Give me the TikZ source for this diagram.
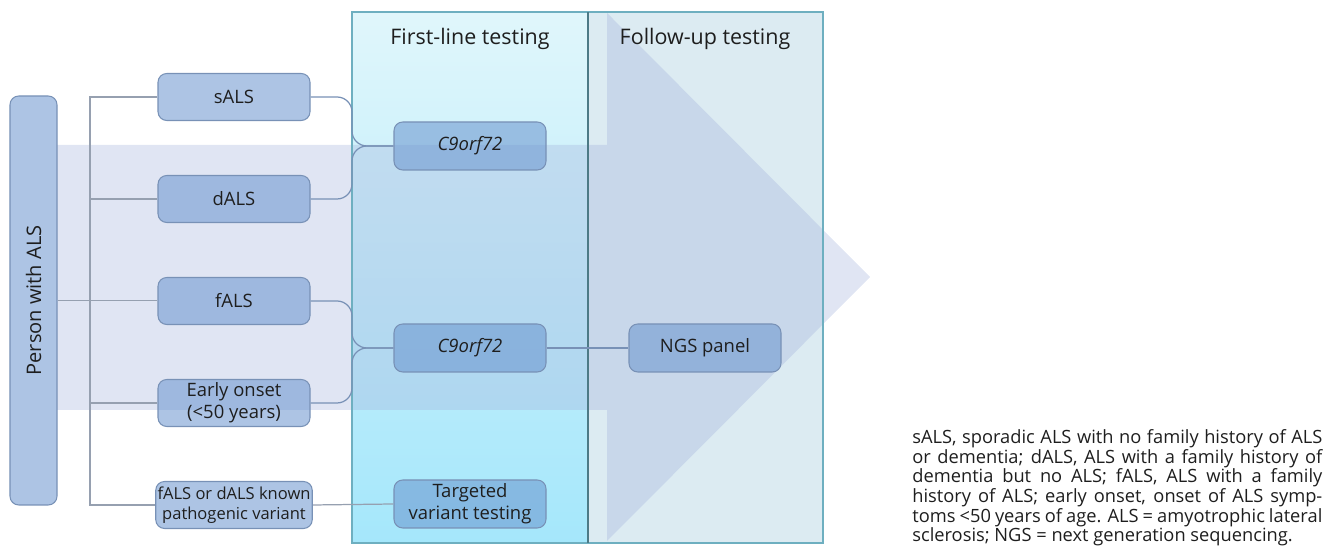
\documentclass[tikz,border=0pt]{standalone}
\usepackage{xcolor}
\usepackage{fontspec}
\setmainfont{Open Sans}
\usepackage{tikz}
\usetikzlibrary{positioning}

\definecolor{boxfill}{RGB}{105,148,206}
\definecolor{boxline}{RGB}{120,145,182}
\definecolor{tieline}{RGB}{150,160,176}
\definecolor{panelline}{RGB}{110,175,192}
\definecolor{paneltop}{RGB}{224,246,251}
\definecolor{panelbot}{RGB}{165,231,251}
\definecolor{followfill}{RGB}{220,235,242}
\definecolor{arrowfill}{RGB}{165,180,220}
\definecolor{inktext}{RGB}{30,30,30}

\begin{document}
\begin{tikzpicture}[font=\fontsize{10.5}{12.6}\selectfont, text=inktext,
    group/.style={draw=boxline, line width=0.6pt, rounded corners=5pt,
      fill=boxfill, fill opacity=0.55, text opacity=1, align=center,
      inner sep=1pt, minimum width=3.04cm, minimum height=0.94cm},
    head/.style={font=\fontsize{12.2}{14}\selectfont},
    tie/.style={draw=tieline, line width=0.7pt},
    link/.style={draw=boxline, line width=0.7pt, rounded corners=0.3cm}]
      \useasboundingbox (0,0) rectangle (26.5,11.04);

      % panels
      \shade[top color=paneltop, bottom color=panelbot] (7.04,0.18) rectangle (11.76,10.8);
      \fill[followfill] (11.76,0.18) rectangle (16.46,10.8);

      % big arrow
      \fill[arrowfill, fill opacity=0.35] (1.14,8.14) -- (12.14,8.14) -- (12.14,10.78)
        -- (17.4,5.5) -- (12.14,0.22) -- (12.14,2.84) -- (1.14,2.84) -- cycle;

      \draw[panelline, line width=0.6pt] (7.04,0.18) rectangle (16.46,10.8);
      \draw[panelline!70!black, line width=0.8pt] (11.76,0.18) -- (11.76,10.8);

      \node[head] (first) at (9.4,10.26) {First-line testing};
      \node[head] (follow) at (14.1,10.26) {Follow-up testing};

      % patient groups
      \node[group, rotate=90, minimum width=8.18cm, minimum height=0.94cm,
        font=\fontsize{11.4}{13}\selectfont] (person) at (0.67,5.03) {Person with ALS};
      \node[group] (sals) at (4.68,9.1) {sALS};
      \node[group] (dals) at (4.68,7.06) {dALS};
      \node[group] (fals) at (4.68,5.02) {fALS};
      \node[group] (early) at (4.68,2.98) {Early onset\\(<50 years)};
      \node[group, font=\fontsize{9.4}{11.2}\selectfont] (known) at (4.68,0.94) {fALS or dALS known\\pathogenic variant};

      % tests
      \node[group, minimum height=0.96cm] (c9a) at (9.4,8.12) {\textit{C9orf72}};
      \node[group, minimum height=0.96cm] (c9b) at (9.4,4.08) {\textit{C9orf72}};
      \node[group, minimum height=0.96cm] (target) at (9.4,0.96) {Targeted\\variant testing};
      \node[group, minimum height=0.96cm] (ngs) at (14.1,4.08) {NGS panel};

      \coordinate (brk) at (1.8,0);
      \coordinate (ja) at (7.04,8.12);
      \coordinate (jb) at (7.04,4.08);

      \draw[tie] (person.south) -- (person.south -| fals.west);
      \draw[tie] (sals.west) -- (sals.west -| brk) |- (known.west);
      \foreach \grp in {dals, early}
        \draw[tie] (\grp.west) -- (\grp.west -| brk);

      \draw[link] (sals.east) -| (ja) -- (c9a.west);
      \draw[link] (dals.east) -| (ja) -- (c9a.west);
      \draw[link] (fals.east) -| (jb) -- (c9b.west);
      \draw[link] (early.east) -| (jb) -- (c9b.west);
      \draw[link] (c9b.east) -- (ngs.west);
      \draw[tie] (known.east) -- (target.west);

      \node[anchor=north west, inner sep=0pt, align=left,
        font=\fontsize{10.4}{11.2}\selectfont] (note) at (18.24,2.46) {%
        \makebox[8.2cm][s]{sALS, sporadic ALS with no family history of ALS}\\
        \makebox[8.2cm][s]{or dementia; dALS, ALS with a family history of}\\
        \makebox[8.2cm][s]{dementia but no ALS; fALS, ALS with a family}\\
        \makebox[8.2cm][s]{history of ALS; early onset, onset of ALS symp-}\\
        \makebox[8.2cm][s]{toms <50 years of age. ALS = amyotrophic lateral}\\
        sclerosis; NGS = next generation sequencing.};
    \end{tikzpicture}
\end{document}
